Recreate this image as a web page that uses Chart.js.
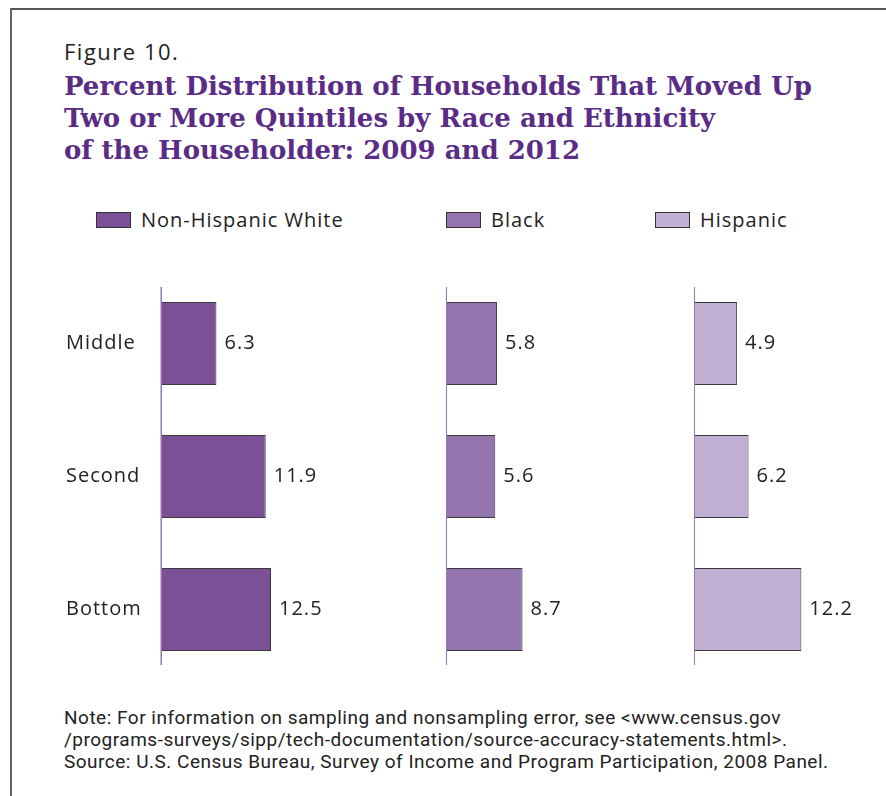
<!DOCTYPE html>
<html>
<head>
<meta charset="utf-8">
<script src="https://cdn.jsdelivr.net/npm/chart.js@4"></script>
<style>
  body { margin: 0; background: #fff; width: 886px; height: 796px; overflow: hidden; position: relative; font-family: "Open Sans", "Noto Sans", sans-serif; }
  #frame { position: absolute; left: 10px; top: 8px; width: 1000px; height: 1000px; border-left: 2px solid #666; border-top: 2px solid #555; }
  #fig { position: absolute; left: 64px; top: 36px; font-size: 22px; letter-spacing: 1.5px; color: #222; }
  #title { position: absolute; left: 64px; top: 70px; font-family: "DejaVu Serif", serif; font-weight: bold; font-size: 26px; line-height: 32px; color: #5b2c86; }
  .leg { position: absolute; top: 206px; font-size: 20px; letter-spacing: 1px; color: #222; display: flex; align-items: center; }
  .sw { width: 35px; height: 16px; border: 1px solid #333; box-sizing: border-box; margin-right: 10px; }
  .wrap { position: absolute; top: 277px; }
  #note { position: absolute; left: 64px; top: 707px; font-family: "Roboto", sans-serif; font-size: 19px; letter-spacing: 0.5px; line-height: 22px; color: #222; }
</style>
</head>
<body>
<div id="frame"></div>
<div id="fig">Figure 10.</div>
<div id="title">Percent Distribution of Households That Moved Up<br>Two or More Quintiles by Race and Ethnicity<br>of the Householder: 2009 and 2012</div>
<div id="legend"></div>
<div class="wrap" style="left:60px"><canvas id="chartWhite" width="277" height="399"></canvas></div>
<div class="wrap" style="left:446px"><canvas id="chartBlack" width="176" height="399"></canvas></div>
<div class="wrap" style="left:694px"><canvas id="chartHispanic" width="176" height="399"></canvas></div>
<div id="note">Note: For information on sampling and nonsampling error, see &lt;www.census.gov<br>/programs-surveys/sipp/tech-documentation/source-accuracy-statements.html&gt;.<br>Source: U.S. Census Bureau, Survey of Income and Program Participation, 2008 Panel.</div>
<script>
// quintile categories (top to bottom)
var categories = ['Middle', 'Second', 'Bottom'];
var groups = ['Non-Hispanic White', 'Black', 'Hispanic'];
var whiteValues = [6.3, 11.9, 12.5];
var blackValues = [5.8, 5.6, 8.7];
var hispanicValues = [4.9, 6.2, 12.2];
var groupColors = ['#7b5096', '#9474ad', '#c1afd3'];
var xMax = 20;

// legend
var legendLeft = [96, 446, 655];
var legendEl = document.getElementById('legend');
groups.forEach(function (name, i) {
    var item = document.createElement('div');
    item.className = 'leg';
    item.style.left = legendLeft[i] + 'px';
    item.innerHTML = '<div class="sw" style="background:' + groupColors[i] + '"></div><span>' + name + '</span>';
    legendEl.appendChild(item);
});

// value labels, axis line and (optionally) category names
var panelPlugin = {
    id: 'panelPlugin',
    afterDatasetsDraw: function (chart, args, opts) {
        var ctx = chart.ctx;
        var area = chart.chartArea;
        ctx.save();
        // vertical axis line
        ctx.strokeStyle = '#9677b2';
        ctx.lineWidth = 1.5;
        ctx.beginPath();
        ctx.moveTo(area.left + 0.25, area.top + 10);
        ctx.lineTo(area.left + 0.25, area.bottom - 11);
        ctx.stroke();

        ctx.font = '20px "Open Sans", "Noto Sans", sans-serif';
        ctx.letterSpacing = '1px';
        ctx.fillStyle = '#222';
        ctx.textBaseline = 'middle';
        ctx.textAlign = 'left';
        var meta = chart.getDatasetMeta(0);
        var data = chart.data.datasets[0].data;
        meta.data.forEach(function (bar, i) {
            ctx.fillText(data[i].toFixed(1), bar.x + 8, bar.y);
        });
        if (opts.showCategories) {
            var yScale = chart.scales.y;
            chart.data.labels.forEach(function (lab, i) {
                ctx.fillText(lab, area.left - 95, yScale.getPixelForValue(i));
            });
        }
        ctx.restore();
    }
};

function makePanel(id, values, color, padLeft, showCategories) {
    var ctx = document.getElementById(id).getContext('2d');
    return new Chart(ctx, {
        type: 'bar',
        data: {
            labels: categories,
            datasets: [{
                data: values,
                backgroundColor: color,
                borderColor: '#3a3a3a',
                borderWidth: 1,
                barPercentage: 0.624,
                categoryPercentage: 1
            }]
        },
        options: {
            indexAxis: 'y',
            responsive: false,
            animation: false,
            layout: { padding: { left: padLeft, right: 0, top: 0, bottom: 0 } },
            scales: {
                x: { display: false, min: 0, max: xMax },
                y: { display: false }
            },
            plugins: {
                legend: { display: false },
                tooltip: { enabled: false },
                panelPlugin: { showCategories: showCategories }
            }
        },
        plugins: [panelPlugin]
    });
}

makePanel('chartWhite', whiteValues, groupColors[0], 101, true);
makePanel('chartBlack', blackValues, groupColors[1], 0, false);
makePanel('chartHispanic', hispanicValues, groupColors[2], 0, false);
</script>
</body>
</html>
